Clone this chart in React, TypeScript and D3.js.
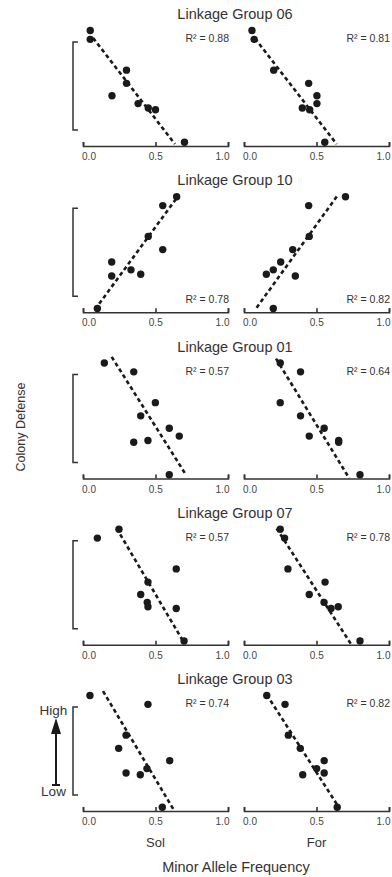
import React, { useRef, useEffect } from "react";
import * as d3 from "d3";

// linkage groups, top to bottom
const groups = ["06", "10", "01", "07", "03"];
// colony defense score, same colonies in every panel (0 = Low, 1 = High)
const defense = [1.13, 1.03, 0.68, 0.53, 0.39, 0.3, 0.25, 0.23, -0.14];
// minor allele frequency per colony, Sol panels
const solFreq = [
  [0.05, 0.05, 0.3, 0.3, 0.2, 0.38, 0.45, 0.5, 0.7],
  [0.646, 0.55, 0.45, 0.55, 0.198, 0.331, 0.398, 0.198, 0.099],
  [0.147, 0.35, 0.499, 0.398, 0.595, 0.664, 0.448, 0.35, 0.595],
  [0.248, 0.099, 0.643, 0.448, 0.398, 0.443, 0.448, 0.643, 0.697],
  [0.048, 0.448, 0.297, 0.246, 0.598, 0.441, 0.297, 0.395, 0.547],
];
// minor allele frequency per colony, For panels
const forFreq = [
  [0.055, 0.07, 0.205, 0.446, 0.503, 0.503, 0.402, 0.453, 0.557],
  [0.7, 0.446, 0.45, 0.336, 0.253, 0.202, 0.154, 0.354, 0.202],
  [0.25, 0.39, 0.25, 0.39, 0.553, 0.45, 0.653, 0.653, 0.8],
  [0.25, 0.28, 0.303, 0.559, 0.45, 0.552, 0.65, 0.6, 0.8],
  [0.157, 0.283, 0.306, 0.388, 0.553, 0.501, 0.553, 0.405, 0.643],
];
// regression lines [x0, y0, x1, y1]
const solFit = [
  [0.07, 1.045, 0.634, -0.16],
  [0.083, -0.15, 0.657, 1.14],
  [0.198, 1.2, 0.71, -0.14],
  [0.232, 1.14, 0.69, -0.14],
  [0.138, 1.18, 0.63, -0.18],
];
const forFit = [
  [0.076, 1.04, 0.639, -0.16],
  [0.087, -0.13, 0.643, 1.14],
  [0.221, 1.18, 0.726, -0.18],
  [0.225, 1.14, 0.74, -0.18],
  [0.157, 1.14, 0.65, -0.13],
];
const solR2 = ["0.88", "0.78", "0.57", "0.57", "0.74"];
const forR2 = ["0.81", "0.82", "0.64", "0.78", "0.82"];
const r2AtBottom = [false, true, false, false, false];
const xTicks = [0, 0.5, 1];
const panelNames = ["Sol", "For"];

const W = 392;
const H = 877;
const FONT = "'Liberation Sans', Arial, sans-serif";
const INK = "#1a1a1a";

function App() {
  const svgRef = useRef<SVGSVGElement>(null);

  useEffect(() => {
    const svg = d3.select(svgRef.current);
    svg.selectAll("*").remove();

    const xScales = [
      d3.scaleLinear().domain([0, 1]).range([83, 228]),
      d3.scaleLinear().domain([0, 1]).range([244, 389]),
    ];
    const rowY = d3.scaleLinear().domain([0, 4]).range([146, 811]);

    groups.forEach((g, i) => {
      const axisY = rowY(i);
      const y = d3.scaleLinear().domain([0, 1]).range([axisY - 16, axisY - 104]);
      const row = svg.append("g");

      row.append("text")
        .attr("x", 235)
        .attr("y", axisY - 127)
        .attr("text-anchor", "middle")
        .attr("font-size", 14.5)
        .attr("fill", "#333")
        .text(`Linkage Group ${g}`);

      // colony defense bracket
      row.append("path")
        .attr("d", `M78,${y(1)}H73V${y(0)}H78`)
        .attr("fill", "none")
        .attr("stroke", "#333")
        .attr("stroke-width", 1.5);

      [solFreq[i], forFreq[i]].forEach((freq, p) => {
        const x = xScales[p];
        const fit = p === 0 ? solFit[i] : forFit[i];
        const r2 = p === 0 ? solR2[i] : forR2[i];

        const axis = d3.axisBottom(x)
          .tickValues(xTicks)
          .tickFormat(d3.format(".1f"))
          .tickSizeInner(-4)
          .tickSizeOuter(-4)
          .tickPadding(7);
        const ax = row.append("g")
          .attr("transform", `translate(0,${axisY})`)
          .call(axis);
        ax.selectAll("path, line").attr("stroke", "#333").attr("stroke-width", 1.6);
        // labels sit a little inside the end ticks, like the original
        ax.selectAll<SVGTextElement, number>("text")
          .attr("x", (d) => 5.5 - d * 11.5)
          .attr("font-size", 10)
          .attr("font-family", FONT)
          .attr("fill", "#444");

        row.append("line")
          .attr("x1", x(fit[0]))
          .attr("y1", y(fit[1]))
          .attr("x2", x(fit[2]))
          .attr("y2", y(fit[3]))
          .attr("stroke", INK)
          .attr("stroke-width", 2.6)
          .attr("stroke-dasharray", "4 3");

        row.selectAll(null)
          .data(freq)
          .join("circle")
          .attr("cx", (d) => x(d))
          .attr("cy", (d, k) => y(defense[k]))
          .attr("r", 3.7)
          .attr("fill", INK);

        row.append("text")
          .attr("x", x(1) + 1)
          .attr("y", r2AtBottom[i] ? axisY - 9 : axisY - 104)
          .attr("text-anchor", "end")
          .attr("font-size", 10.5)
          .attr("fill", "#333")
          .text(`R² = ${r2}`);

        if (i === groups.length - 1) {
          svg.append("text")
            .attr("x", x(0.5))
            .attr("y", 847)
            .attr("text-anchor", "middle")
            .attr("font-size", 13)
            .attr("fill", "#333")
            .text(panelNames[p]);
        }
      });
    });

    svg.append("text")
      .attr("x", 236)
      .attr("y", 872)
      .attr("text-anchor", "middle")
      .attr("font-size", 14.5)
      .attr("fill", "#333")
      .text("Minor Allele Frequency");

    svg.append("text")
      .attr("transform", "translate(25,427) rotate(-90)")
      .attr("text-anchor", "middle")
      .attr("font-size", 12.5)
      .attr("fill", "#333")
      .text("Colony Defense");

    // High / Low arrow
    svg.append("text")
      .attr("x", 53.5).attr("y", 715)
      .attr("text-anchor", "middle")
      .attr("font-size", 13.5)
      .attr("fill", "#333")
      .text("High");
    svg.append("text")
      .attr("x", 53.5).attr("y", 796)
      .attr("text-anchor", "middle")
      .attr("font-size", 13.5)
      .attr("fill", "#333")
      .text("Low");
    svg.append("path")
      .attr("d", "M56,785V730M52,785H60")
      .attr("stroke", INK)
      .attr("stroke-width", 2)
      .attr("fill", "none");
    svg.append("path")
      .attr("d", "M56,718L61,734L51,734Z")
      .attr("fill", INK);
  }, []);

  return (
    <svg
      ref={svgRef}
      width={W}
      height={H}
      style={{ position: "absolute", left: 0, top: 0, background: "#fff", fontFamily: FONT }}
      fontFamily={FONT}
    />
  );
}

export default App;
